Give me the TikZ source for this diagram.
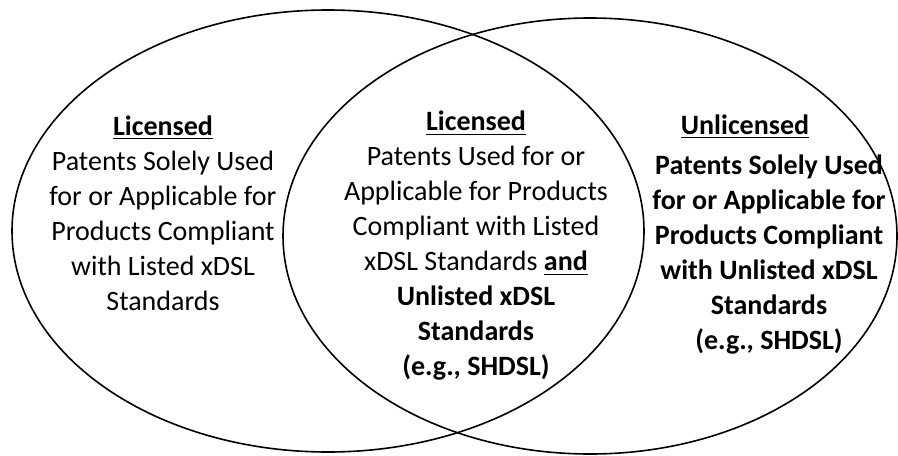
\documentclass[tikz,border=0pt]{standalone}
\usepackage{fontspec}
\setmainfont{Carlito}
\begin{document}
\begin{tikzpicture}[x=0.5pt,y=-0.5pt,
  ring/.style={line width=0.8pt},
  txt/.style={align=center,font=\fontsize{14}{17.5}\selectfont}]
\useasboundingbox (0,0) rectangle (898,455);
\draw[ring] (328,231) ellipse (316 and 221);
\draw[ring] (590,236) ellipse (307 and 218);
\node[txt] (lic) at (163,213) {\textbf{\underline{Licensed}}\\
  Patents Solely Used\\for or Applicable for\\Products Compliant\\
  with Listed xDSL\\Standards};
\node[txt] (both) at (476,246) {\textbf{\underline{Licensed}}\\
  Patents Used for or\\Applicable for Products\\Compliant with Listed\\
  xDSL Standards \textbf{\underline{and}}\\\textbf{Unlisted xDSL}\\
  \textbf{Standards}\\\textbf{(e.g., SHDSL)}};
\node[txt,font=\fontsize{14}{17.5}\selectfont\bfseries] (unlic) at (769,255)
  {Patents Solely Used\\for or Applicable for\\Products Compliant\\
  with Unlisted xDSL\\Standards\\(e.g., SHDSL)};
\node[txt,font=\fontsize{14}{17.5}\selectfont\bfseries] (unhead) at (745,127)
  {\underline{Unlicensed}};
\end{tikzpicture}
\end{document}
